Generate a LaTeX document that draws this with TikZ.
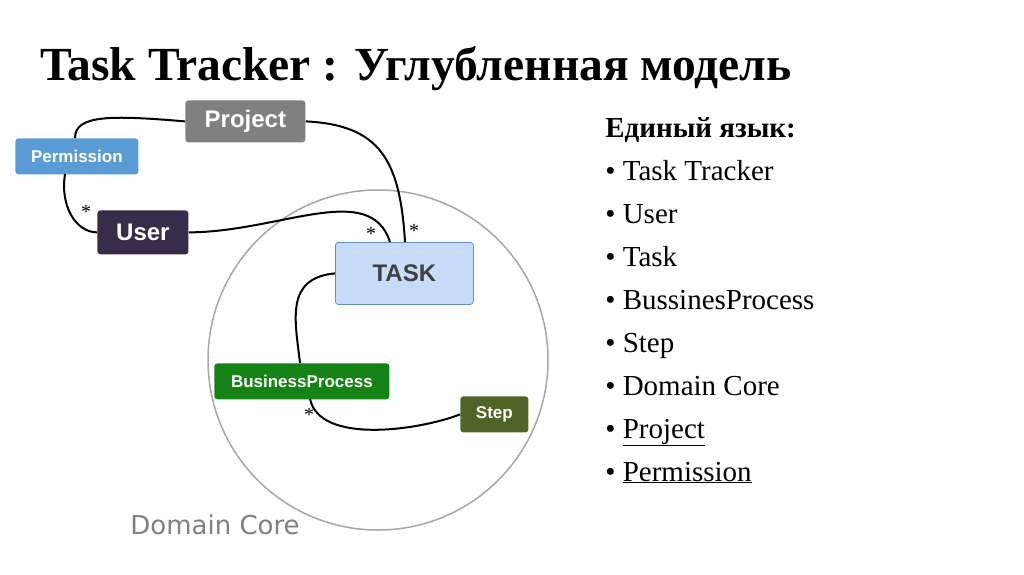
\documentclass[tikz,border=0pt]{standalone}
\usepackage{fontspec}
\setmainfont{Liberation Serif}
\newfontfamily\boxfont{Liberation Sans}
\newfontfamily\corefont{DejaVu Sans}
\usetikzlibrary{positioning}
\definecolor{projgray}{RGB}{128,128,128}
\definecolor{permblue}{RGB}{91,155,213}
\definecolor{userdark}{RGB}{55,45,75}
\definecolor{taskfill}{RGB}{200,220,250}
\definecolor{taskline}{RGB}{100,140,200}
\definecolor{bpgreen}{RGB}{20,130,20}
\definecolor{stepolive}{RGB}{80,100,40}
\tikzset{every picture/.style={line width=0.75pt}}
\tikzset{
  entity/.style={rounded corners=3pt, text=white, font=\boxfont\bfseries, inner sep=0pt, anchor=north west},
  link/.style={line width=2pt, black},
  star/.style={font=\fontsize{20}{20}\selectfont},
  item/.style={anchor=base west, font=\fontsize{29}{29}\selectfont, inner sep=0pt}
}
\begin{document}
\begin{tikzpicture}[x=1pt,y=1pt,yscale=-1]
\useasboundingbox (0,0) rectangle (1024,574);

% title
\node[anchor=base west, inner sep=0pt, font=\fontsize{47.5}{47.5}\selectfont\bfseries] (title) at (40,80) {Task Tracker : Углубленная модель};

% domain core
\draw[gray!70, line width=1.5pt] (378,360) circle (170);
\node[anchor=base west, inner sep=0pt, text=gray, font=\corefont\fontsize{26}{26}\selectfont] (core) at (130,534) {Domain Core};

% entities
\node[entity, fill=projgray, minimum width=120, minimum height=42, font=\boxfont\bfseries\fontsize{24}{24}\selectfont] (project) at (185,100) {Project};
\node[entity, fill=permblue, minimum width=123, minimum height=36, font=\boxfont\bfseries\fontsize{17}{17}\selectfont] (perm) at (15,138) {Permission};
\node[entity, fill=userdark, minimum width=91, minimum height=44, font=\boxfont\bfseries\fontsize{24}{24}\selectfont] (user) at (97,210) {User};
\node[entity, fill=taskfill, draw=taskline, text=black!75, minimum width=138, minimum height=62, font=\boxfont\bfseries\fontsize{24}{24}\selectfont] (task) at (335,242) {TASK};
\node[entity, fill=bpgreen, minimum width=175, minimum height=36, font=\boxfont\bfseries\fontsize{17}{17}\selectfont] (bp) at (214,363) {BusinessProcess};
\node[entity, fill=stepolive, minimum width=68, minimum height=36, font=\boxfont\bfseries\fontsize{17}{17}\selectfont] (step) at (460,396) {Step};

% links
\draw[link] (project.west) .. controls (110,115) and (75,115) .. (75,138);
\draw[link] (65,174) .. controls (60,205) and (75,232) .. (user.west);
\draw[link] (user.east) .. controls (280,232) and (370,180) .. (390,242);
\draw[link] (project.east) .. controls (380,125) and (400,160) .. (405,242);
\draw[link] (task.west) .. controls (285,278) and (295,320) .. (300,363);
\draw[link] (310,399) .. controls (320,445) and (420,430) .. (step.west);

% multiplicities
\node[star] (s1) at (86,212) {*};
\node[star] (s2) at (371,234) {*};
\node[star] (s3) at (414,231) {*};
\node[star] (s4) at (309,415) {*};

% glossary
\node[item, font=\fontsize{29}{29}\selectfont\bfseries] (head) at (605,137) {Единый язык:};
\foreach \t [count=\i] in {Task Tracker, User, Task, BussinesProcess, Step, Domain Core, \underline{Project}, \underline{Permission}}
  \node[item] (g\i) at (605,{137+43*\i}) {• \t};
\end{tikzpicture}
\end{document}
